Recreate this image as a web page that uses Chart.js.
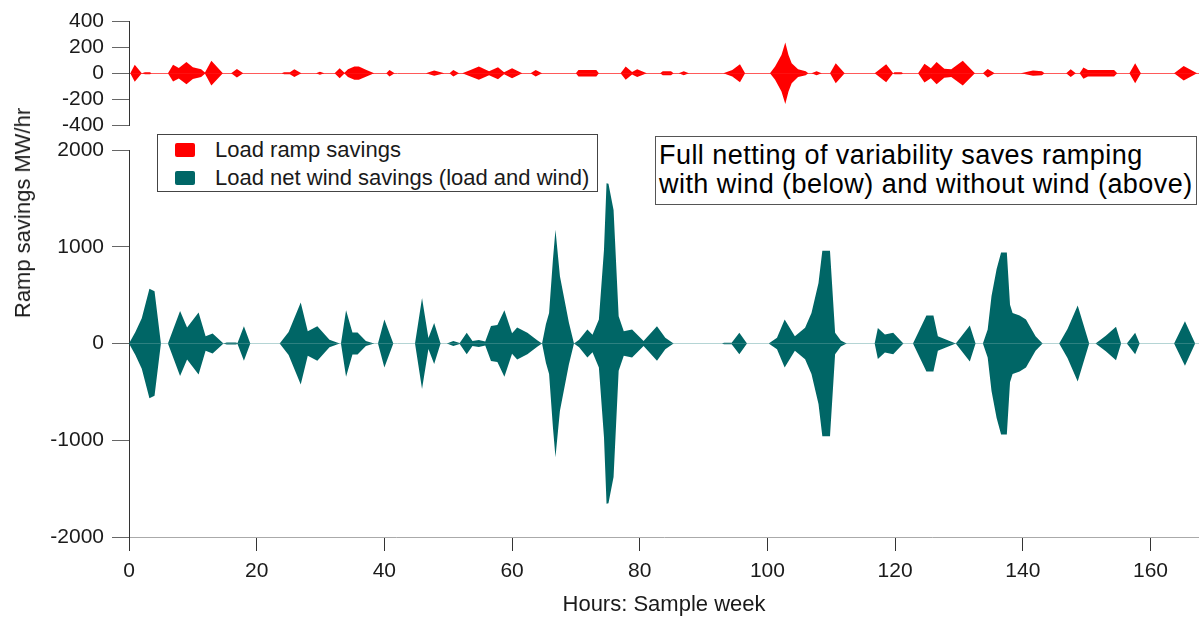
<!DOCTYPE html>
<html>
<head>
<meta charset="utf-8">
<script src="https://cdn.jsdelivr.net/npm/chart.js@4/dist/chart.umd.min.js"></script>
<style>
  body { margin: 0; background: #fff; width: 1199px; height: 618px; overflow: hidden; position: relative;
         font-family: "Liberation Sans", Arial, sans-serif; color: #1a1a1a; }
  canvas { display: block; position: absolute; left: 0; }
  #topChart { top: 0; }
  #botChart { top: 128px; }
  #ytitle { position: absolute; left: 23px; top: 213px; transform: translate(-50%, -50%) rotate(-90deg);
            font-size: 22px; white-space: nowrap; }
  #legend { position: absolute; left: 157px; top: 134px; width: 441px; height: 58px; border: 1px solid #444;
            box-sizing: border-box; font-size: 22px; background: #fff; }
  .item { position: absolute; left: 0; height: 26px; line-height: 26px; white-space: nowrap; }
  .sw { position: absolute; left: 17px; top: 6px; width: 20px; height: 14px; border-radius: 2px; }
  .lt { position: absolute; left: 57px; top: 0; }
  #note { position: absolute; left: 655px; top: 136px; width: 542px; height: 69px; border: 1px solid #555;
          box-sizing: border-box; font-size: 27px; line-height: 29px; padding: 4px 0 0 3px; background: #fff;
          color: #000; letter-spacing: 0.45px; white-space: nowrap; }
</style>
</head>
<body>
<canvas id="topChart" width="1199" height="146"></canvas>
<canvas id="botChart" width="1199" height="490"></canvas>
<div id="ytitle"></div>
<div id="legend"></div>
<div id="note"></div>
<script>
// Series names and text
const seriesNames = ["Load ramp savings", "Load net wind savings (load and wind)"];
const seriesColors = ["#ff0000", "#006666"];
const yTitle = "Ramp savings MW/hr";
const xTitle = "Hours: Sample week";
const noteLines = ["Full netting of variability saves ramping", "with wind (below) and without wind (above)"];

// Load ramp savings (top panel), MW/hr, drawn mirrored about zero
const loadHours = [0.2, 0.9, 2, 2.5, 3.3, 3.5,
  6.1, 6.9, 7.8, 9, 10, 11.3, 11.9, 12.9, 14.7,
  16, 16.9, 17.9,
  23.9, 24.3, 25.2, 25.9, 27,
  29.3, 29.9, 30.6,
  32.2, 33, 33.75, 34.3, 35.3, 36, 37.2, 38.4,
  40.3, 40.8, 41.6,
  46.5, 47.8, 49.4,
  50.2, 50.8, 51.7,
  52.2, 53.5, 54.8, 56.4, 57.8, 58.75, 60, 61.6,
  62.9, 63.7, 64.7,
  70, 70.4, 73.2, 73.6,
  77, 77.8, 78.8, 79.6, 81.1,
  83.2, 83.6, 84.9, 85.3,
  86.1, 86.9, 87.7,
  93.1, 94.5, 95.7, 96.5,
  100.4, 101.2, 102.2, 102.8, 103.3, 103.8, 104.8, 106, 106.4,
  106.9, 107.7, 108.5,
  109.8, 110.7, 112.1,
  116.8, 118.6, 119.7, 119.9, 121, 121.25,
  123.6, 124.6, 125.6, 126.5, 127.7, 128.8, 130.6, 132.5,
  133.75, 134.5, 135.6,
  139.7, 141.6, 143, 143.4,
  146.8, 147.5, 148.3,
  148.9, 149.5, 150.2, 154.3, 154.8,
  156.7, 157.6, 158.5,
  163.7, 165.2, 167.3];
const loadRampSavings = [0, 65, 0, 8, 8, 0,
  0, 64, 40, 85, 45, 30, 5, 95, 0,
  0, 33, 0,
  0, 8, 8, 30, 0,
  0, 12, 0,
  0, 38, 3, 30, 51, 51, 25, 0,
  0, 25, 0,
  0, 20, 0,
  0, 25, 0,
  0, 25, 51, 15, 46, 8, 38, 0,
  0, 25, 0,
  0, 25, 25, 0,
  0, 51, 10, 30, 0,
  0, 15, 15, 0,
  0, 15, 0,
  0, 25, 69, 0,
  0, 51, 140, 236, 140, 77, 30, 15, 0,
  0, 15, 0,
  0, 77, 0,
  0, 69, 0, 8, 8, 0,
  0, 72, 38, 85, 35, 30, 95, 0,
  0, 33, 0,
  0, 20, 15, 0,
  0, 30, 0,
  0, 43, 25, 25, 0,
  0, 77, 0,
  0, 56, 0];

// Load net wind savings (bottom panel), MW/hr, drawn mirrored about zero
const windHours = [0, 1, 2, 3.2, 4, 5,
  6.1, 8, 9.1, 10.9, 12, 13.1, 14.8,
  15.3, 16.7, 17, 18, 19,
  23.6, 25, 26.9, 28, 29.5, 31.4, 33,
  33.2, 34, 35, 35.8, 37.1, 38.4,
  39, 40, 41.4,
  44.8, 45.9, 46.9, 47.8, 48.8,
  49.8, 50.8, 51.8, 52.9, 53.8, 54.8, 55.8, 56.7, 57.7, 58.8, 60, 60.8, 62.4, 64, 64.7,
  65.3, 65.8, 66.4, 66.8, 67.5, 68.9, 69.7,
  70.5, 71.8, 72.6, 73.6, 74.4, 74.8, 75.1, 75.9, 76.7, 77.5, 78.8, 80.6, 82.7, 84, 85.3,
  92.9, 93.2, 94.4, 95.6, 96.8,
  100.2, 101.5, 102.7, 104.3, 105.9, 106.9, 108, 108.6, 109.8, 110.6, 111.5, 112.4,
  116.8, 117.3, 118.4, 119.7, 121.3,
  122.8, 124.9, 126, 126.7, 129.5, 131.7, 132.6,
  133.75, 134.5, 135.1, 135.9, 136.6, 137.5, 138, 138.4, 139.5, 140.5, 142, 143.1,
  145.7, 147, 148.6, 150.4,
  151.4, 153, 154.6, 155.4,
  156.3, 157.6, 158.3,
  163.7, 165.4, 167];
const windSavings = [0, 120, 260, 565, 540, 0,
  0, 335, 165, 320, 75, 103, 0,
  10, 10, 5, 178, 0,
  0, 120, 425, 127, 178, 40, 0,
  0, 343, 113, 113, 25, 0,
  0, 247, 0,
  0, 470, 58, 213, 0,
  0, 25, 5, 110, 25, 35, 20, 180, 190, 343, 107, 165, 110, 30, 0,
  200, 316, 866, 1175, 694, 216, 0,
  40, 144, 90, 247, 969, 1657, 1650, 1381, 281, 127, 144, 25, 178, 60, 0,
  0, 8, 8, 110, 0,
  0, 60, 247, 75, 162, 316, 625, 958, 958, 110, 30, 0,
  0, 160, 93, 110, 0,
  0, 289, 289, 75, 0, 186, 0,
  0, 144, 490, 770, 941, 941, 400, 316, 290, 247, 75, 0,
  0, 150, 392, 0,
  0, 80, 172, 0,
  0, 110, 0,
  0, 230, 0];

const xMin = 0, xMax = 167.6;

Chart.defaults.font.family = '"Liberation Sans", Arial, sans-serif';
Chart.defaults.color = '#1a1a1a';

function pts(hours, vals, sign) {
  return hours.map((h, i) => ({ x: h, y: sign * vals[i] }));
}

function areaSet(label, color, hours, vals, sign) {
  return {
    label: label, data: pts(hours, vals, sign), fill: 'origin',
    backgroundColor: color, borderColor: 'rgba(0,0,0,0)', borderWidth: 0,
    pointRadius: 0, tension: 0
  };
}

function yAxis(min, max, step, zeroColor) {
  return {
    min: min, max: max,
    ticks: { stepSize: step, autoSkip: false, font: { size: 21 }, color: '#1a1a1a', padding: 8,
             callback: v => String(v) },
    grid: { color: c => c.tick.value === 0 ? zeroColor : 'rgba(0,0,0,0)', tickColor: '#666', tickLength: 17 },
    border: { color: '#333' },
    afterFit: s => { s.width = 129; }
  };
}

// top panel: load only
new Chart(document.getElementById('topChart'), {
  type: 'line',
  data: {
    datasets: [
      areaSet(seriesNames[0], seriesColors[0], loadHours, loadRampSavings, 1),
      areaSet(seriesNames[0], seriesColors[0], loadHours, loadRampSavings, -1)
    ]
  },
  options: {
    responsive: false, animation: false, devicePixelRatio: 1,
    layout: { padding: { top: 21, bottom: 0, left: 0, right: 0 } },
    plugins: { legend: { display: false }, tooltip: { enabled: false } },
    scales: {
      x: { type: 'linear', min: xMin, max: xMax, display: false },
      y: yAxis(-400, 400, 200, '#ff5a5a')
    }
  }
});

// bottom panel: load net wind
new Chart(document.getElementById('botChart'), {
  type: 'line',
  data: {
    datasets: [
      areaSet(seriesNames[1], seriesColors[1], windHours, windSavings, 1),
      areaSet(seriesNames[1], seriesColors[1], windHours, windSavings, -1)
    ]
  },
  options: {
    responsive: false, animation: false, devicePixelRatio: 1,
    layout: { padding: { top: 22, bottom: 0, left: 0, right: 0 } },
    plugins: { legend: { display: false }, tooltip: { enabled: false } },
    scales: {
      x: {
        type: 'linear', min: xMin, max: xMax,
        ticks: { stepSize: 20, includeBounds: false, font: { size: 21 }, color: '#1a1a1a', padding: 8, maxRotation: 0,
                 callback: v => String(v) },
        grid: { drawOnChartArea: false, tickColor: '#333', tickLength: 14 },
        border: { color: '#aaa' },
        title: { display: true, text: xTitle, font: { size: 22 }, color: '#1a1a1a', padding: { top: 0, bottom: 0 } },
        afterFit: s => { s.height = 81; }
      },
      y: yAxis(-2000, 2000, 1000, '#b5d5d5')
    }
  }
});

// overlays: axis title, legend, note
document.getElementById('ytitle').textContent = yTitle;
const legend = document.getElementById('legend');
seriesNames.forEach((name, i) => {
  const item = document.createElement('div');
  item.className = 'item';
  item.style.top = (2 + i * 28) + 'px';
  item.innerHTML = '<span class="sw" style="background:' + seriesColors[i] + '"></span><span class="lt"></span>';
  item.querySelector('.lt').textContent = name;
  legend.appendChild(item);
});
document.getElementById('note').innerHTML = noteLines.map(t => '<div></div>').join('');
document.querySelectorAll('#note div').forEach((d, i) => { d.textContent = noteLines[i]; });
</script>
</body>
</html>
